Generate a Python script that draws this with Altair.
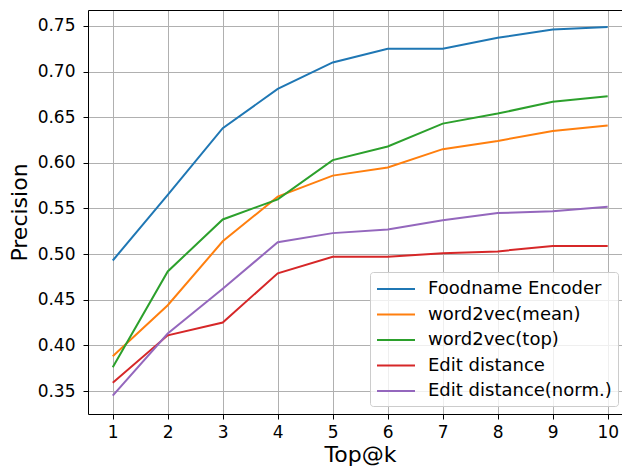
import altair as alt
import pandas as pd

k = list(range(1, 11))
foodname = [0.493, 0.565, 0.638, 0.681, 0.710, 0.725, 0.725, 0.737, 0.746, 0.749]
w2v_mean = [0.388, 0.444, 0.514, 0.563, 0.586, 0.595, 0.615, 0.624, 0.635, 0.641]
w2v_top = [0.376, 0.481, 0.538, 0.560, 0.603, 0.618, 0.643, 0.654, 0.667, 0.673]
edit = [0.359, 0.411, 0.425, 0.479, 0.497, 0.497, 0.501, 0.503, 0.509, 0.509]
edit_norm = [0.345, 0.413, 0.462, 0.513, 0.523, 0.527, 0.537, 0.545, 0.547, 0.552]
series = ["Foodname Encoder", "word2vec(mean)", "word2vec(top)",
          "Edit distance", "Edit distance(norm.)"]
colors = ["#1f77b4", "#ff7f0e", "#2ca02c", "#d62728", "#9467bd"]
y_ticks = [0.35, 0.40, 0.45, 0.50, 0.55, 0.60, 0.65, 0.70, 0.75]

rows = []
for name, vals in zip(series, [foodname, w2v_mean, w2v_top, edit, edit_norm]):
    for kk, v in zip(k, vals):
        rows.append({"k": kk, "precision": v, "method": name})
df = pd.DataFrame(rows)

FONT = "DejaVu Sans"
xscale = alt.Scale(domain=[0.55, 10.26], nice=False, zero=False)
yscale = alt.Scale(domain=[0.3248, 0.7675], nice=False, zero=False)

lines = alt.Chart(df).mark_line(strokeWidth=2, clip=True).encode(
    x=alt.X("k:Q", scale=xscale,
            axis=alt.Axis(values=k, title="Top@k", format="d", orient="bottom",
                          labelPadding=5, titleX=272, titleY=47,
                          titleBaseline="alphabetic")),
    y=alt.Y("precision:Q", scale=yscale,
            axis=alt.Axis(values=y_ticks, format=".2f", title="Precision",
                          labelPadding=8, titleX=-62,
                          titleBaseline="alphabetic")),
    color=alt.Color("method:N", sort=series,
                    scale=alt.Scale(domain=series, range=colors),
                    legend=alt.Legend(orient="none", legendX=282, legendY=262,
                                      title=None, symbolType="M-1.9,0H1.9",
                                      symbolSize=400, symbolStrokeWidth=2,
                                      labelFontSize=18, labelFont=FONT,
                                      labelColor="#000000", labelLimit=400,
                                      rowPadding=5.5, padding=6,
                                      fillColor="rgba(255,255,255,0.8)",
                                      strokeColor="#cccccc", cornerRadius=3,
                                      labelOffset=21, symbolOffset=9)),
)

top = alt.Chart(df).mark_rule(opacity=0).encode(
    x=alt.X("k:Q", scale=xscale,
            axis=alt.Axis(orient="top", labels=False, ticks=False, grid=False,
                          title=None, domain=True)),
)

chart = alt.layer(lines, top).resolve_axis(x="independent").properties(
    width=534, height=404,
    autosize=alt.AutoSizeParams(type="none"),
    padding={"left": 80, "top": 2, "right": 0, "bottom": 56},
).configure_view(stroke=None).configure_axis(
    domainColor="#000000", domainWidth=1, tickColor="#000000", tickSize=5,
    tickWidth=1, gridColor="#b0b0b0", gridWidth=1, labelFont=FONT,
    labelFontSize=17, labelColor="#000000", titleFont=FONT, titleFontSize=22,
    titleFontWeight="normal", titleColor="#000000",
)

chart.save("out.html", embed_options={"renderer": "svg", "actions": False})
